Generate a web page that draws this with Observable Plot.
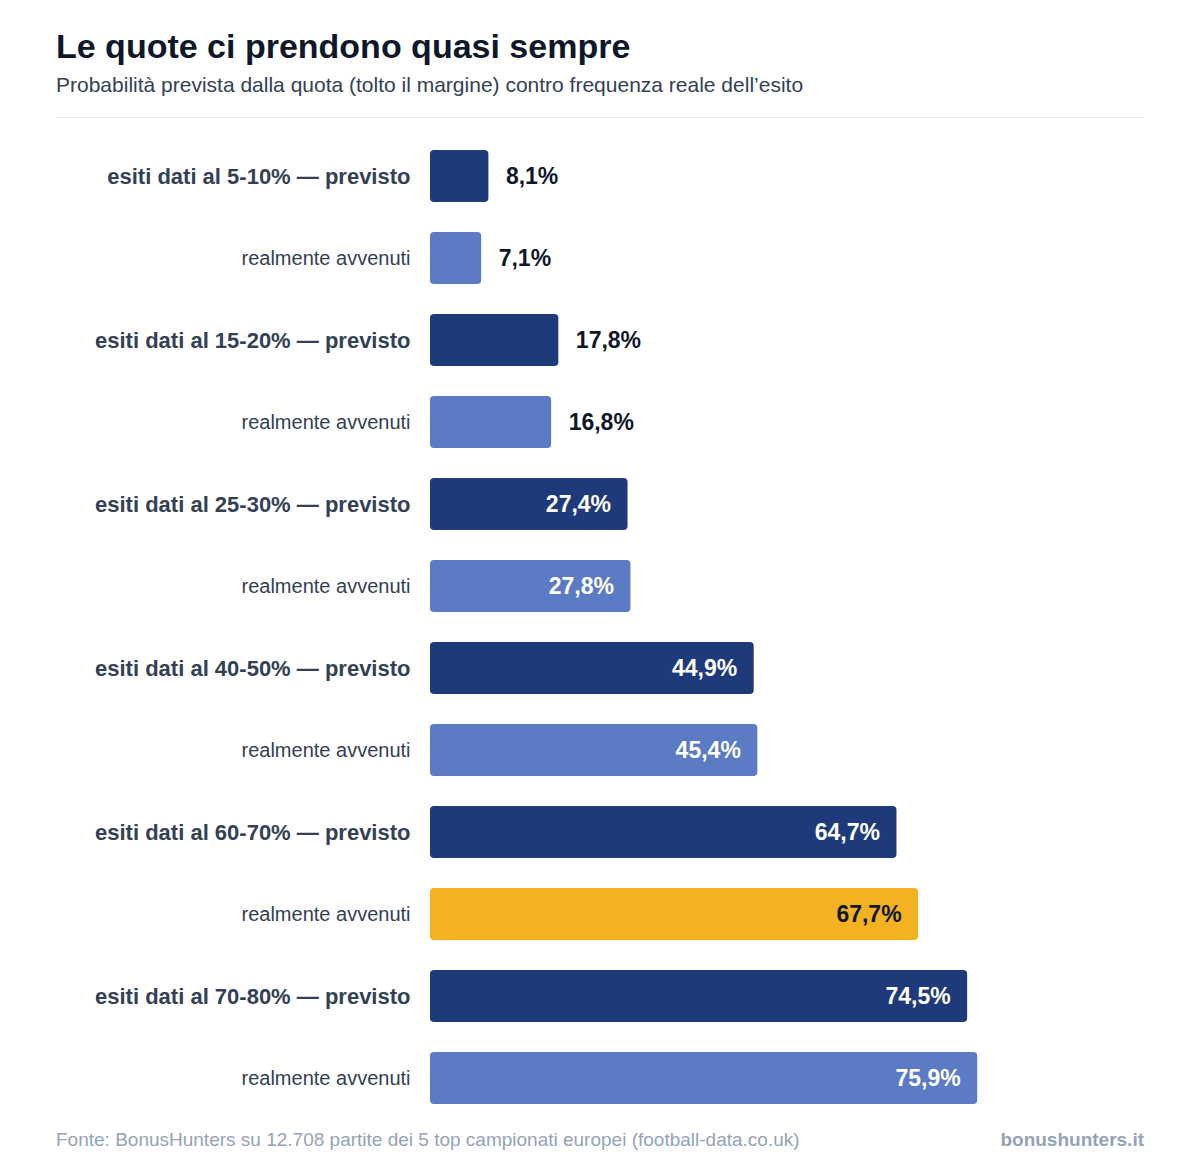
<!DOCTYPE html>
<html>
<head>
<meta charset="utf-8">
<script src="https://cdn.jsdelivr.net/npm/d3@7"></script>
<script src="https://cdn.jsdelivr.net/npm/@observablehq/plot@0.6"></script>
<style>
  html, body { margin: 0; padding: 0; background: #ffffff; }
  body { width: 1200px; height: 1174px; position: relative; overflow: hidden;
         font-family: "Liberation Sans", Arial, Helvetica, sans-serif; }
  .abs { position: absolute; white-space: nowrap; }
  #title { left: 56px; top: 29px; font-size: 34px; line-height: 34px; font-weight: 700; color: #0f172a; }
  #subtitle { left: 56px; top: 74px; font-size: 21px; line-height: 21px; color: #334155; }
  #rule { left: 56px; top: 117px; width: 1088px; height: 1px; background: #e2e8f0; }
  #chart { left: 0; top: 118px; }
  #source { left: 56px; top: 1130px; font-size: 19px; line-height: 19px; color: #94a3b8; }
  #brand { right: 56px; top: 1130px; font-size: 19px; line-height: 19px; color: #94a3b8; font-weight: 700; }
</style>
</head>
<body>
<div id="title" class="abs">Le quote ci prendono quasi sempre</div>
<div id="subtitle" class="abs">Probabilità prevista dalla quota (tolto il margine) contro frequenza reale dell’esito</div>
<div id="rule" class="abs"></div>
<div id="chart" class="abs"></div>
<div id="source" class="abs">Fonte: BonusHunters su 12.708 partite dei 5 top campionati europei (football-data.co.uk)</div>
<div id="brand" class="abs">bonushunters.it</div>
<script>
// ---- data ----
const groups = ["5-10%", "15-20%", "25-30%", "40-50%", "60-70%", "70-80%"];
const previsto = [8.1, 17.8, 27.4, 44.9, 64.7, 74.5];
const avvenuti = [7.1, 16.8, 27.8, 45.4, 67.7, 75.9];
const highlightGroup = "60-70%";
const previstoLabel = g => `esiti dati al ${g} — previsto`;
const avvenutiLabel = "realmente avvenuti";

// ---- style ----
const C_PREV = "#1f3a7a";
const C_REAL = "#5b7bc4";
const C_HIGH = "#f4b223";
const C_DARK = "#0f172a";
const C_LABEL = "#334155";
const INSIDE_MIN = 25;

const rows = [];
groups.forEach((g, i) => {
  rows.push({key: g + "|p", kind: "p", label: previstoLabel(g), value: previsto[i], color: C_PREV});
  rows.push({key: g + "|r", kind: "r", label: avvenutiLabel, value: avvenuti[i],
             color: g === highlightGroup ? C_HIGH : C_REAL});
});
const fmt = v => v.toFixed(1).replace(".", ",") + "%";

const inside = rows.filter(d => d.value >= INSIDE_MIN);
const outside = rows.filter(d => d.value < INSIDE_MIN);

const chart = Plot.plot({
  width: 1200,
  height: 1012,
  marginLeft: 430,
  marginRight: 49,
  marginTop: 32,
  marginBottom: 26,
  style: {fontFamily: '"Liberation Sans", Arial, Helvetica, sans-serif', background: "transparent"},
  x: {domain: [0, 100], axis: null},
  y: {domain: rows.map(d => d.key), axis: null, paddingInner: 30 / 82, paddingOuter: 0},
  color: {type: "identity"},
  marks: [
    Plot.barX(rows, {x: "value", y: "key", fill: "color", rx: 4}),
    Plot.text(rows.filter(d => d.kind === "p"), {
      x: () => 0, y: "key", text: "label", textAnchor: "end", dx: -20,
      fontSize: 22, fontWeight: 700, fill: C_LABEL
    }),
    Plot.text(rows.filter(d => d.kind === "r"), {
      x: () => 0, y: "key", text: "label", textAnchor: "end", dx: -20,
      fontSize: 20, fill: C_LABEL
    }),
    Plot.text(inside, {
      x: "value", y: "key", text: d => fmt(d.value), textAnchor: "end", dx: -17,
      fontSize: 23, fontWeight: 700, fill: d => d.color === C_HIGH ? C_DARK : "#ffffff"
    }),
    Plot.text(outside, {
      x: "value", y: "key", text: d => fmt(d.value), textAnchor: "start", dx: 17,
      fontSize: 23, fontWeight: 700, fill: C_DARK
    })
  ]
});
document.getElementById("chart").appendChild(chart);
</script>
</body>
</html>
